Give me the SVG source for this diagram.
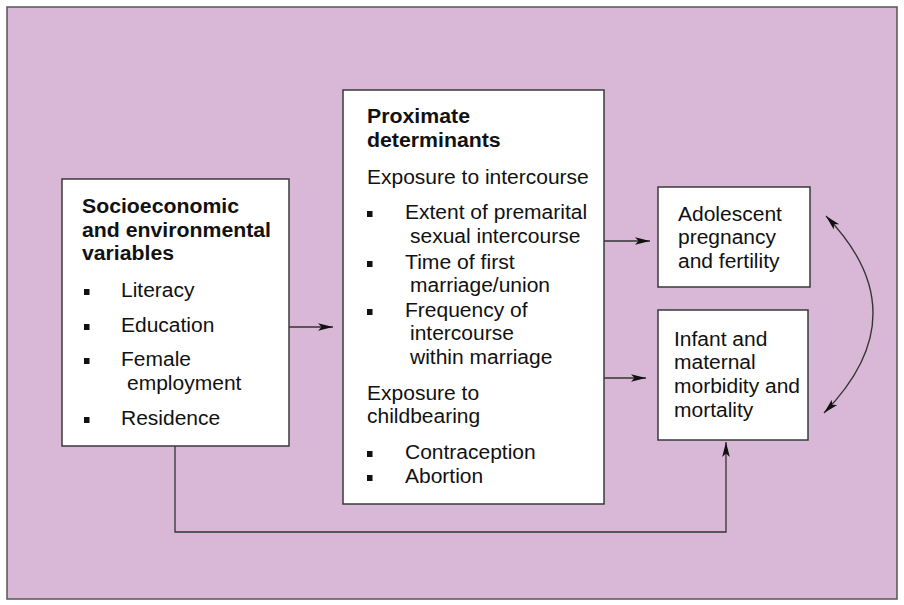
<svg xmlns="http://www.w3.org/2000/svg" width="904" height="605" viewBox="0 0 904 605">
<style>
.box{fill:#ffffff;stroke:#3a3a3a;stroke-width:1.5}
.t{font-family:"Liberation Sans",Arial,sans-serif;font-size:19.5px;fill:#111111}
.b{font-weight:bold;font-size:19.5px}
.bul{fill:#111111}
.con{fill:none;stroke:#333333;stroke-width:1.3}
</style>
<defs>
<marker id="ah" markerUnits="userSpaceOnUse" markerWidth="16" markerHeight="10" refX="15" refY="5" orient="auto-start-reverse" viewBox="0 0 16 10">
<path d="M0,1.2 L15,5 L0,8.8 L3.5,5 Z" fill="#111111"/>
</marker>
</defs>
<rect x="7" y="7" width="890" height="592" fill="#d9b8d7" stroke="#555555" stroke-width="1.5"/>
<g id="connectors">
<line class="con" x1="289" y1="327" x2="333" y2="327" marker-end="url(#ah)"/>
<line class="con" x1="604" y1="241" x2="650" y2="241" marker-end="url(#ah)"/>
<line class="con" x1="604" y1="378" x2="646" y2="378" marker-end="url(#ah)"/>
<polyline class="con" points="175,446 175,532 726,532 726,442" marker-end="url(#ah)"/>
<path class="con" d="M826,216 Q921,314 824,413" marker-start="url(#ah)" marker-end="url(#ah)"/>
</g>
<g id="socioeconomic">
<rect class="box" x="62" y="179" width="227" height="267"/>
<text class="t b" x="82" y="213" textLength="157" lengthAdjust="spacingAndGlyphs">Socioeconomic</text>
<text class="t b" x="82" y="237" textLength="189" lengthAdjust="spacingAndGlyphs">and environmental</text>
<text class="t b" x="82" y="260" textLength="92" lengthAdjust="spacingAndGlyphs">variables</text>
<rect class="bul" x="84" y="289" width="5.5" height="6"/>
<text class="t" x="121" y="297" textLength="73.5" lengthAdjust="spacingAndGlyphs">Literacy</text>
<rect class="bul" x="84" y="324" width="5.5" height="6"/>
<text class="t" x="121" y="332" textLength="93.4" lengthAdjust="spacingAndGlyphs">Education</text>
<rect class="bul" x="84" y="358" width="5.5" height="6"/>
<text class="t" x="121" y="366" textLength="70" lengthAdjust="spacingAndGlyphs">Female</text>
<text class="t" x="127" y="390" textLength="114.4" lengthAdjust="spacingAndGlyphs">employment</text>
<rect class="bul" x="84" y="417" width="5.5" height="6"/>
<text class="t" x="121" y="425" textLength="99.2" lengthAdjust="spacingAndGlyphs">Residence</text>
</g>
<g id="proximate">
<rect class="box" x="343" y="90" width="261" height="414"/>
<text class="t b" x="367" y="123" textLength="103" lengthAdjust="spacingAndGlyphs">Proximate</text>
<text class="t b" x="367" y="147" textLength="133.7" lengthAdjust="spacingAndGlyphs">determinants</text>
<text class="t" x="367" y="184" textLength="221.8" lengthAdjust="spacingAndGlyphs">Exposure to intercourse</text>
<rect class="bul" x="367" y="211" width="5.5" height="6"/>
<text class="t" x="405" y="219" textLength="182.1" lengthAdjust="spacingAndGlyphs">Extent of premarital</text>
<text class="t" x="410" y="243" textLength="170.4" lengthAdjust="spacingAndGlyphs">sexual intercourse</text>
<rect class="bul" x="367" y="261" width="5.5" height="6"/>
<text class="t" x="405" y="269" textLength="109.7" lengthAdjust="spacingAndGlyphs">Time of first</text>
<text class="t" x="410" y="292" textLength="140" lengthAdjust="spacingAndGlyphs">marriage/union</text>
<rect class="bul" x="367" y="309" width="5.5" height="6"/>
<text class="t" x="405" y="317" textLength="122.6" lengthAdjust="spacingAndGlyphs">Frequency of</text>
<text class="t" x="410" y="340" textLength="103.9" lengthAdjust="spacingAndGlyphs">intercourse</text>
<text class="t" x="410" y="364" textLength="142.4" lengthAdjust="spacingAndGlyphs">within marriage</text>
<text class="t" x="367" y="400" textLength="112.1" lengthAdjust="spacingAndGlyphs">Exposure to</text>
<text class="t" x="367" y="423" textLength="113.2" lengthAdjust="spacingAndGlyphs">childbearing</text>
<rect class="bul" x="367" y="451" width="5.5" height="6"/>
<text class="t" x="405" y="459" textLength="130.7" lengthAdjust="spacingAndGlyphs">Contraception</text>
<rect class="bul" x="367" y="475" width="5.5" height="6"/>
<text class="t" x="405" y="483" textLength="78.2" lengthAdjust="spacingAndGlyphs">Abortion</text>
</g>
<g id="adolescent">
<rect class="box" x="658" y="187" width="152" height="100"/>
<text class="t" x="678" y="221" textLength="103.9" lengthAdjust="spacingAndGlyphs">Adolescent</text>
<text class="t" x="678" y="244" textLength="98" lengthAdjust="spacingAndGlyphs">pregnancy</text>
<text class="t" x="678" y="268" textLength="101.5" lengthAdjust="spacingAndGlyphs">and fertility</text>
</g>
<g id="infant">
<rect class="box" x="658" y="310" width="150" height="130"/>
<text class="t" x="674" y="346" textLength="93.4" lengthAdjust="spacingAndGlyphs">Infant and</text>
<text class="t" x="674" y="369" textLength="81.7" lengthAdjust="spacingAndGlyphs">maternal</text>
<text class="t" x="674" y="393" textLength="126" lengthAdjust="spacingAndGlyphs">morbidity and</text>
<text class="t" x="674" y="417" textLength="79.3" lengthAdjust="spacingAndGlyphs">mortality</text>
</g>
</svg>
